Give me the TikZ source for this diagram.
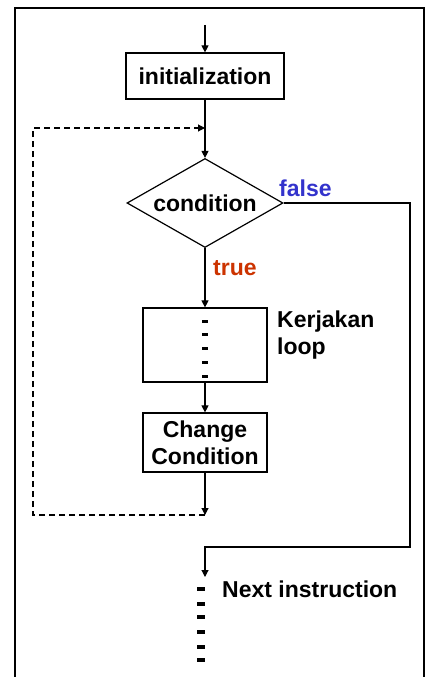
\documentclass[tikz,border=0pt]{standalone}
\usepackage{fontspec}
\setmainfont{Liberation Sans}
\usetikzlibrary{shapes.geometric,arrows.meta}
\definecolor{falseblue}{RGB}{51,51,204}
\definecolor{truered}{RGB}{204,51,0}
\tikzset{
  flowfont/.style={font=\fontsize{23}{27}\selectfont\bfseries},
  flowbox/.style={draw, line width=1.2pt, flowfont, inner sep=2pt},
  decision/.style={draw, diamond, aspect=1.75, line width=1.2pt, flowfont, inner sep=0pt,
    minimum width=156pt, minimum height=89pt},
  flowline/.style={line width=1.1pt, -{Triangle[length=7pt,width=7pt]}},
  backline/.style={flowline, dash pattern=on 6pt off 4pt},
}

\begin{document}
\begin{tikzpicture}[x=1pt,y=-1pt]
  \useasboundingbox (0,0) rectangle (430,677);
  % frame
  \draw[line width=2pt] (14.5,677) -- (14.5,8) -- (424,8) -- (424,677);

  % boxes
  \coordinate (start) at (205,25);
  \node[flowbox, minimum width=158pt, minimum height=46pt] (init) at (205,76) {initialization};
  \node[decision] (cond) at (205,203) {condition};
  \node[flowbox, minimum width=124pt, minimum height=74pt] (body) at (205,345) {};
  \node[flowbox, minimum width=124pt, minimum height=59pt, align=center] (change) at (205,442.5) {Change\\Condition};

  % labels
  \node[flowfont, text=falseblue, anchor=base west, inner sep=0pt] (falselbl) at (279,196) {false};
  \node[flowfont, text=truered, anchor=base west, inner sep=0pt] (truelbl) at (213,275) {true};
  \node[flowfont, anchor=base west, inner sep=0pt, align=left] (bodylbl) at (277,354) {Kerjakan\\loop};
  \node[flowfont, anchor=base west, inner sep=0pt] (nextlbl) at (222,597) {Next instruction};

  % turning points
  \coordinate (loopin) at (205,128);
  \coordinate (back) at (205,515);
  \coordinate (leftside) at (33,128);
  \coordinate (farright) at (410,547);
  \coordinate (nextin) at (205,577);

  % connectors
  \draw[flowline] (start) -- (init.north);
  \draw[flowline] (init.south) -- (cond.north);
  \draw[flowline] (cond.south) -- (body.north);
  \draw[flowline] (body.south) -- (change.north);
  \draw[flowline] (change.south) -- (back);
  \draw[backline] (back) -| (leftside) -- (loopin);
  \draw[flowline] (cond.east) -| (farright) -| (nextin);

  % dots
  \foreach \y in {321,334,348,362,376}
    \fill (202,\y-1.5) rectangle (208,\y+1.5);
  \foreach \y in {589,604,617,632,647,660}
    \fill (197,\y-2) rectangle (205,\y+2);
\end{tikzpicture}
\end{document}
